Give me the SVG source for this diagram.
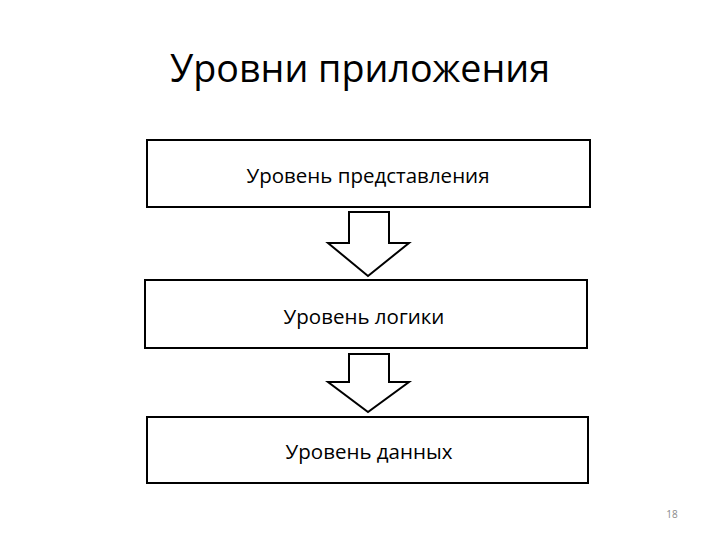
<svg xmlns="http://www.w3.org/2000/svg" width="720" height="540" viewBox="0 0 720 540">
<style>
.box{fill:#fff;stroke:#000;stroke-width:2}
.arr{fill:#fff;stroke:#000;stroke-width:2;stroke-linejoin:miter}
.lbl{font-family:"Open Sans","Noto Sans","Liberation Sans",sans-serif;font-size:20.5px;fill:#000;text-anchor:middle}
</style>
<rect width="720" height="540" fill="#fff"/>
<text x="360" y="82" font-family="Open Sans, Noto Sans, Liberation Sans, sans-serif" font-size="38" text-anchor="middle" textLength="380" lengthAdjust="spacingAndGlyphs">Уровни приложения</text>
<g id="n1"><rect class="box" x="147" y="140" width="443" height="67"/><text class="lbl" x="368" y="183">Уровень представления</text></g>
<g id="n2"><rect class="box" x="145" y="280" width="442" height="68"/><text class="lbl" x="364" y="324">Уровень логики</text></g>
<g id="n3"><rect class="box" x="147" y="417" width="441" height="66"/><text class="lbl" x="369" y="459">Уровень данных</text></g>
<g id="connectors">
<path class="arr" d="M349,212 H389 V243 H409 L368,276 L328,243 H349 Z"/>
<path class="arr" d="M349,354 H389 V382 H409 L368,412 L328,382 H349 Z"/>
</g>
<text x="672" y="518" font-family="Open Sans, Noto Sans, Liberation Sans, sans-serif" font-size="10" fill="#8a8a8a" text-anchor="middle">18</text>
</svg>
